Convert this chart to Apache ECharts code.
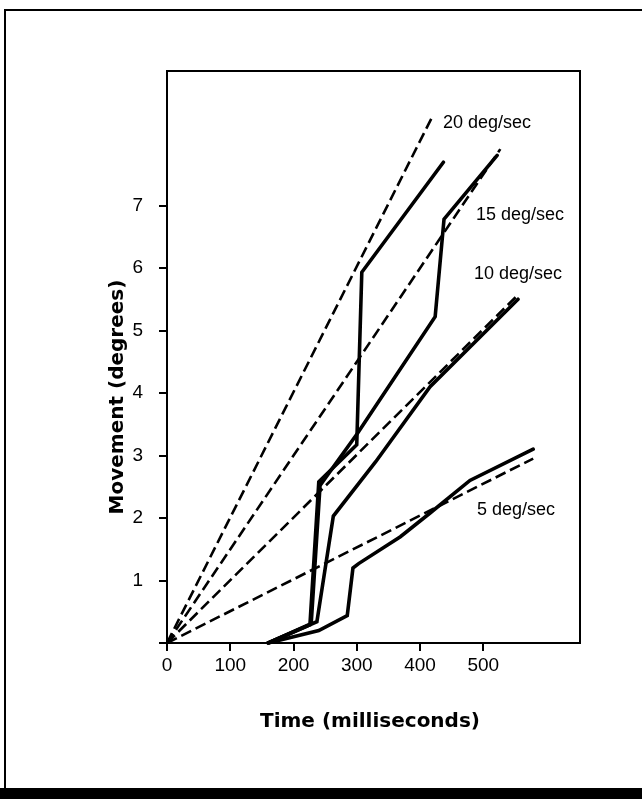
<!DOCTYPE html>
<html><head><meta charset="utf-8">
<script src="https://cdn.jsdelivr.net/npm/echarts@6/dist/echarts.min.js"></script>
<style>html,body{margin:0;padding:0;background:#fff}#c{width:642px;height:799px}</style>
</head><body><div id="c"></div>
<script>
// ---- data ----
const xTicks = [0, 100, 200, 300, 400, 500];
const yTickMarks = [0, 1, 2, 3, 4, 5, 6, 7];
const yTicks = [1, 2, 3, 4, 5, 6, 7];
const rateNames = ['20 deg/sec', '15 deg/sec', '10 deg/sec', '5 deg/sec'];
// reference (dashed) lines: [time ms, degrees]
const ref20 = [[0, 0], [421, 8.45]];
const ref15 = [[0, 0], [527, 7.9]];
const ref10 = [[0, 0], [553, 5.55]];
const ref5  = [[0, 0], [579, 2.95]];
// measured responses (solid)
const resp20 = [[160, 0], [226, 0.29], [240, 2.58], [300, 3.17], [308, 5.93], [437, 7.69]];
const resp15 = [[160, 0], [228, 0.31], [242, 2.52], [301, 3.35], [424, 5.22], [438, 6.78], [522, 7.8]];
const resp10 = [[160, 0], [237, 0.34], [263, 2.03], [330, 2.9], [416, 4.1], [555, 5.5]];
const resp5  = [[160, 0], [240, 0.2], [285, 0.44], [294, 1.2], [303, 1.27], [369, 1.7], [416, 2.08], [479, 2.6], [579, 3.1]];

const chart = echarts.init(document.getElementById('c'), null, {renderer: 'canvas'});
const solid = d => ({type: 'line', data: d, symbol: 'none', silent: true, animation: false,
  lineStyle: {color: '#000', width: 3.6, cap: 'round', join: 'miter'}, z: 3});
const dashed = d => ({type: 'line', data: d, symbol: 'none', silent: true, animation: false,
  lineStyle: {color: '#000', width: 2.6, type: [11, 5]}, z: 2});

const labelFont = {fontFamily: 'Liberation Sans, Arial, sans-serif', fontSize: 19, color: '#000'};
const annFont = '18px "Liberation Sans", Arial, sans-serif';
chart.setOption({
  backgroundColor: '#fff',
  animation: false,
  grid: {left: 167, right: 62, top: 71, bottom: 156, show: true, borderColor: '#000', borderWidth: 2, backgroundColor: 'transparent'},
  xAxis: {type: 'value', min: 0, max: 653,
    axisLine: {show: true, onZero: false, lineStyle: {color: '#000', width: 2}},
    axisTick: {show: true, customValues: xTicks, length: 8, lineStyle: {color: '#000', width: 2}},
    axisLabel: Object.assign({customValues: xTicks, margin: 13}, labelFont),
    splitLine: {show: false}},
  yAxis: {type: 'value', min: 0, max: 9.15,
    axisLine: {show: true, onZero: false, lineStyle: {color: '#000', width: 2}},
    axisTick: {show: true, customValues: yTickMarks, length: 8, lineStyle: {color: '#000', width: 2}},
    axisLabel: Object.assign({customValues: yTicks, margin: 24}, labelFont),
    splitLine: {show: false}},
  series: [dashed(ref20), dashed(ref15), dashed(ref10), dashed(ref5),
           solid(resp20), solid(resp15), solid(resp10), solid(resp5)],
  graphic: [
    {type: 'rect', shape: {x: 5, y: 10, width: 700, height: 790}, style: {fill: 'none', stroke: '#000', lineWidth: 2}, silent: true},
    {type: 'rect', shape: {x: 0, y: 788, width: 642, height: 11}, style: {fill: '#000'}, silent: true},
    {type: 'text', x: 370, y: 722, style: {text: 'Time (milliseconds)', font: 'bold 20px "DejaVu Sans", sans-serif', fill: '#000', textAlign: 'center', textVerticalAlign: 'middle'}},
    {type: 'text', x: 118, y: 397, rotation: Math.PI / 2, style: {text: 'Movement (degrees)', font: 'bold 20px "DejaVu Sans", sans-serif', fill: '#000', textAlign: 'center', textVerticalAlign: 'middle'}},
    {type: 'text', x: 443, y: 123, style: {text: rateNames[0], font: annFont, fill: '#000', textVerticalAlign: 'middle'}},
    {type: 'text', x: 476, y: 215, style: {text: rateNames[1], font: annFont, fill: '#000', textVerticalAlign: 'middle'}},
    {type: 'text', x: 474, y: 274, style: {text: rateNames[2], font: annFont, fill: '#000', textVerticalAlign: 'middle'}},
    {type: 'text', x: 477, y: 510, style: {text: rateNames[3], font: annFont, fill: '#000', textVerticalAlign: 'middle'}}
  ]
});
</script></body></html>
